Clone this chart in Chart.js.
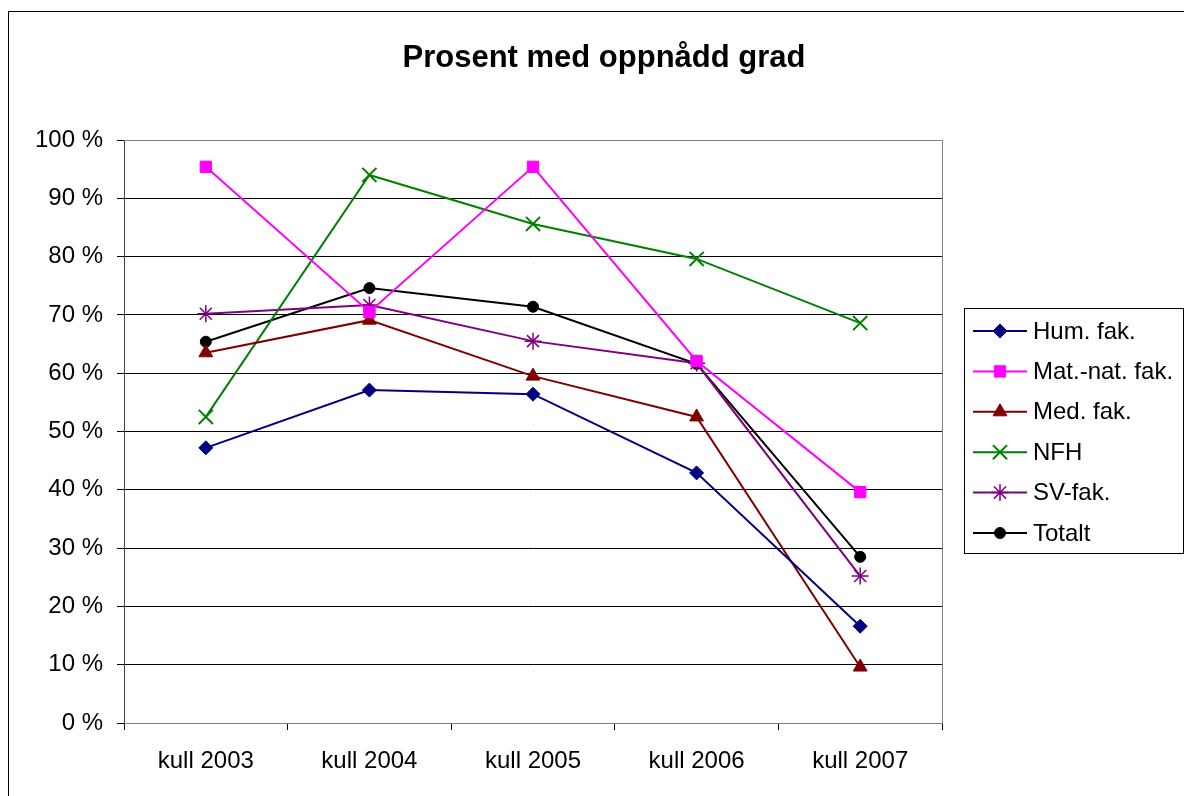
<!DOCTYPE html>
<html>
<head>
<meta charset="utf-8">
<title>Prosent med oppnådd grad</title>
<script src="https://cdn.jsdelivr.net/npm/chart.js@4"></script>
<style>
  html, body { margin: 0; padding: 0; background: #fff; }
  #wrap { width: 1184px; height: 796px; }
</style>
</head>
<body>
<div id="wrap"><canvas id="chart" width="1184" height="796"></canvas></div>
<script>
// ---- data ----
const categories = ['kull 2003', 'kull 2004', 'kull 2005', 'kull 2006', 'kull 2007'];
const humFak    = [47.2, 57.1, 56.4, 42.9, 16.6];
const matNatFak = [95.4, 70.5, 95.4, 62.1, 39.6];
const medFak    = [63.5, 69.1, 59.5, 52.5, 9.6];
const nfh       = [52.5, 94.0, 85.6, 79.6, 68.6];
const svFak     = [70.2, 71.7, 65.5, 61.7, 25.2];
const totalt    = [65.4, 74.6, 71.4, 61.6, 28.5];
const yTicks    = [0, 10, 20, 30, 40, 50, 60, 70, 80, 90, 100];

const FONT = 'Arial, "Liberation Sans", sans-serif';

function series(label, data, color, style, radius, bw) {
    return {
        label, data,
        borderColor: color,
        backgroundColor: color,
        borderWidth: 2,
        pointStyle: style,
        pointRadius: radius,
        pointBackgroundColor: color,
        pointBorderColor: color,
        pointBorderWidth: bw,
        tension: 0,
        clip: false
    };
}

const datasets = [
    series('Hum. fak.', humFak, '#000080', 'rectRot', 7, 1),
    series('Mat.-nat. fak.', matNatFak, '#ff00ff', 'rect', 8, 1),
    series('Med. fak.', medFak, '#800000', 'triangle', 8, 1),
    series('NFH', nfh, '#008000', 'crossRot', 10, 2),
    series('SV-fak.', svFak, '#800080', 'star', 8.5, 1.5),
    series('Totalt', totalt, '#000000', 'circle', 5.5, 1)
];

// frame, title, plot border and boxed legend (Excel look)
const excelDecor = {
    id: 'excelDecor',
    afterDraw(chart) {
        const ctx = chart.ctx;
        const a = chart.chartArea;
        ctx.save();
        // outer chart border
        ctx.strokeStyle = '#000';
        ctx.lineWidth = 1;
        ctx.strokeRect(8.5, 11.5, 1200, 800);
        // plot area border
        ctx.strokeStyle = '#808080';
        ctx.beginPath();
        ctx.moveTo(a.left, a.top + 0.5);
        ctx.lineTo(a.right + 0.5, a.top + 0.5);
        ctx.lineTo(a.right + 0.5, a.bottom);
        ctx.stroke();
        // title
        ctx.fillStyle = '#000';
        ctx.font = 'bold 31px ' + FONT;
        ctx.textAlign = 'center';
        ctx.textBaseline = 'middle';
        ctx.fillText('Prosent med oppnådd grad', 604, 58);
        // legend
        ctx.strokeStyle = '#000';
        ctx.strokeRect(964.5, 308.5, 219, 245);
        ctx.font = '24px ' + FONT;
        ctx.textAlign = 'left';
        chart.data.datasets.forEach((ds, i) => {
            const y = 331 + i * 40.4;
            ctx.strokeStyle = ds.borderColor;
            ctx.lineWidth = 2;
            ctx.beginPath();
            ctx.moveTo(973, y);
            ctx.lineTo(1027, y);
            ctx.stroke();
            ctx.fillStyle = ds.pointBackgroundColor;
            ctx.lineWidth = ds.pointBorderWidth;
            Chart.helpers.drawPoint(ctx, {
                pointStyle: ds.pointStyle,
                radius: ds.pointRadius,
                borderWidth: ds.pointBorderWidth,
                rotation: 0
            }, 1000, y);
            ctx.fillStyle = '#000';
            ctx.fillText(ds.label, 1033, y + 1);
        });
        ctx.restore();
    }
};

new Chart(document.getElementById('chart').getContext('2d'), {
    type: 'line',
    data: { labels: categories, datasets },
    options: {
        responsive: false,
        animation: false,
        layout: { padding: { top: 140, right: 242, bottom: 0, left: 0 } },
        plugins: {
            legend: { display: false },
            title: { display: false },
            tooltip: { enabled: false }
        },
        scales: {
            x: {
                offset: true,
                afterFit(scale) { scale.height = 73; },
                grid: {
                    offset: true,
                    drawOnChartArea: false,
                    drawTicks: true,
                    tickLength: 7,
                    color: '#000'
                },
                border: { color: '#808080', width: 1 },
                ticks: {
                    color: '#000',
                    font: { size: 24, family: FONT },
                    padding: 17,
                    maxRotation: 0
                }
            },
            y: {
                min: 0,
                max: 100,
                afterFit(scale) { scale.width = 124; },
                afterBuildTicks(scale) { scale.ticks = yTicks.map(v => ({ value: v })); },
                grid: {
                    color: '#000',
                    lineWidth: 1,
                    tickLength: 7,
                    drawTicks: true
                },
                border: { color: '#404040', width: 1 },
                ticks: {
                    color: '#000',
                    font: { size: 24, family: FONT },
                    padding: 14,
                    callback: v => v + ' %'
                }
            }
        }
    },
    plugins: [excelDecor]
});
</script>
</body>
</html>
